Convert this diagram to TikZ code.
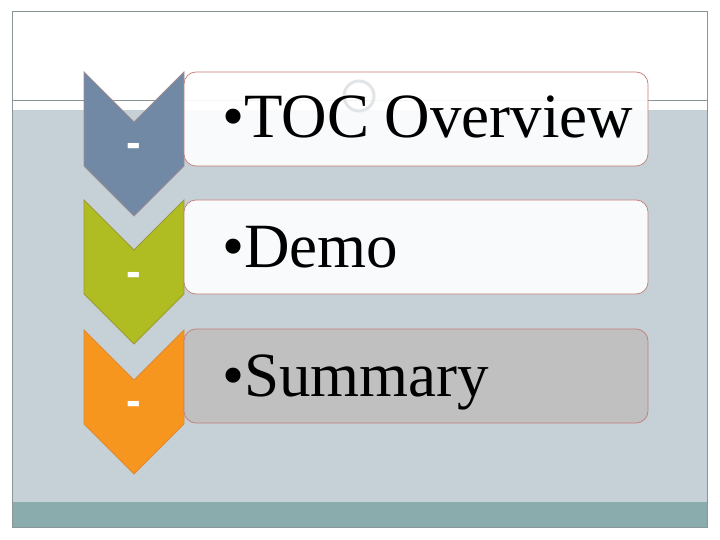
\documentclass[tikz,border=0pt]{standalone}
\usepackage{fontspec}
\setmainfont{Liberation Serif}
\newfontfamily\dashfont{Liberation Sans}
\definecolor{framegray}{HTML}{8A9598}
\definecolor{bggray}{HTML}{C5D1D7}
\definecolor{bandteal}{HTML}{8AACAD}
\definecolor{chblue}{HTML}{7189A5}
\definecolor{chbluedge}{HTML}{9C8B91}
\definecolor{chgreen}{HTML}{AFBD22}
\definecolor{chgreenedge}{HTML}{9E9A33}
\definecolor{chorange}{HTML}{F7961F}
\definecolor{chorangeedge}{HTML}{DD8A3A}
\definecolor{boxedge}{HTML}{C47E78}
\definecolor{sumgray}{HTML}{C0C0C0}
\definecolor{ringgray}{HTML}{E2E5E8}
\tikzset{
  chev/.style={line width=0.8pt, line join=miter},
  itembox/.style={draw=boxedge, line width=0.7pt, rounded corners=12pt},
  itemtext/.style={font=\fontsize{63}{70}\selectfont, anchor=base west, inner sep=0pt, text=black},
  dashmark/.style={font=\dashfont\bfseries\fontsize{44}{48}\selectfont, anchor=base, inner sep=0pt, text=white}
}
\begin{document}
\begin{tikzpicture}[x=1pt,y=-1pt]
\useasboundingbox (0,0) rectangle (720,540);
\fill[white] (0,0) rectangle (720,540);
% frame and background
\fill[white] (12,12) rectangle (707,527);
\fill[bggray] (12,110) rectangle (707,502);
\fill[bandteal] (12,502) rectangle (707,527);
\draw[framegray, line width=0.8pt] (12,100) -- (707,100);
\draw[framegray, line width=1pt] (12,12) rectangle (707,527);
% chevrons
\draw[chev, fill=chblue, draw=chbluedge] (84,72) -- (134,122) -- (184,72) -- (184,166) -- (134,216) -- (84,166) -- cycle;
\draw[chev, fill=chgreen, draw=chgreenedge] (84,200) -- (134,250) -- (184,200) -- (184,294) -- (134,344) -- (84,294) -- cycle;
\draw[chev, fill=chorange, draw=chorangeedge] (84,330) -- (134,380) -- (184,330) -- (184,424) -- (134,474) -- (84,424) -- cycle;
\node[dashmark] (d1) at (134,158) {-};
\node[dashmark] (d2) at (134,286) {-};
\node[dashmark] (d3) at (134,415) {-};
% boxes
\draw[itembox, fill=white, fill opacity=0.9] (184,72) rectangle (648,166);
\draw[itembox, fill=white, fill opacity=0.9] (184,200) rectangle (648,294);
\draw[itembox, fill=sumgray] (184,329) rectangle (648,423);
% watermark ring
\draw[ringgray, line width=3pt] (359,96) circle (15);
% texts
\node[itemtext] (t1) at (222,138) {•TOC Overview};
\node[itemtext] (t2) at (222,267) {•Demo};
\node[itemtext] (t3) at (222,396) {•Summary};
\end{tikzpicture}
\end{document}
